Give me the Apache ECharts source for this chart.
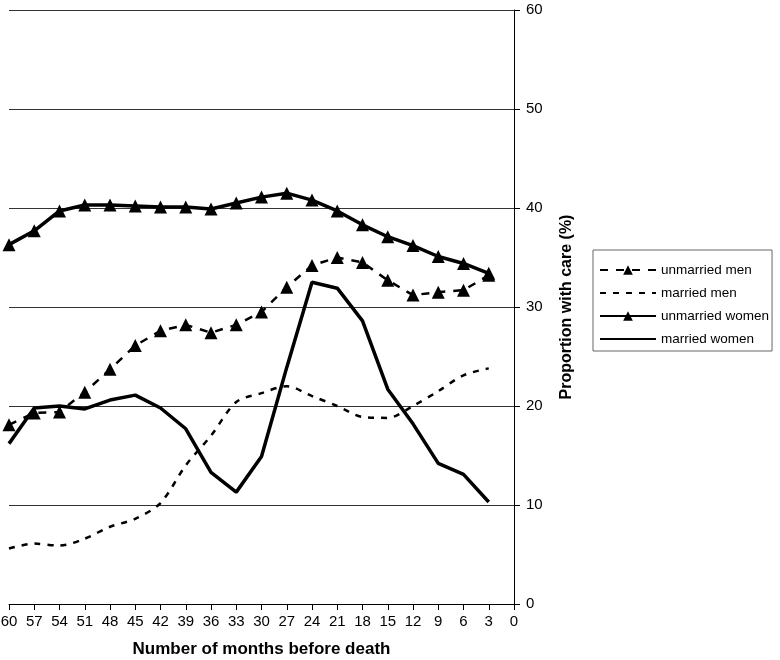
<!DOCTYPE html>
<html>
<head>
<meta charset="utf-8">
<script src="https://cdn.jsdelivr.net/npm/echarts@6/dist/echarts.min.js"></script>
<style>html,body{margin:0;padding:0;background:#fff;}#c{width:780px;height:660px;}</style>
</head>
<body>
<div id="c"></div>
<script>
var months = ['60','57','54','51','48','45','42','39','36','33','30','27','24','21','18','15','12','9','6','3','0'];
var unmarriedMen   = [18.1,19.3,19.4,21.4,23.7,26.1,27.6,28.2,27.4,28.2,29.5,32.0,34.2,35.0,34.5,32.7,31.2,31.5,31.7,33.2];
var marriedMen     = [5.6,6.1,5.9,6.6,7.8,8.6,10.2,14.0,17.0,20.4,21.3,22.0,21.0,20.0,18.9,18.8,20.0,21.5,23.1,23.8];
var unmarriedWomen = [36.3,37.7,39.7,40.3,40.3,40.2,40.1,40.1,39.9,40.5,41.1,41.5,40.8,39.7,38.3,37.1,36.2,35.1,34.4,33.4];
var marriedWomen   = [16.2,19.8,20.0,19.7,20.6,21.1,19.8,17.7,13.3,11.3,14.9,23.9,32.5,31.9,28.6,21.7,18.2,14.2,13.1,10.3];
var yTicks = {min:0, max:60, interval:10};

var font = 'Liberation Sans, Arial, Helvetica, sans-serif';
var chart = echarts.init(document.getElementById('c'), null, {renderer:'canvas'});
chart.setOption({
  animation:false,
  backgroundColor:'#fff',
  textStyle:{fontFamily:font, color:'#000'},
  grid:{left:9, right:266, top:10, bottom:56, containLabel:false, outerBoundsMode:'none'},
  legend:{
    orient:'vertical', left:593, top:250,
    backgroundColor:'#fff', borderColor:'#666', borderWidth:1,
    padding:[13,3,5,6], itemGap:9, itemWidth:56, itemHeight:12,
    textStyle:{fontFamily:font, fontSize:13.5, color:'#000'},
    data:[
      {name:'unmarried men'},
      {name:'married men', itemStyle:{opacity:0}},
      {name:'unmarried women'},
      {name:'married women', itemStyle:{opacity:0}}
    ]
  },
  xAxis:{
    type:'category', data:months, boundaryGap:false,
    axisLine:{show:true, lineStyle:{color:'#000', width:1}},
    axisTick:{show:true, length:6, lineStyle:{color:'#000'}},
    axisLabel:{fontSize:15, color:'#000', margin:10, interval:0, fontFamily:font},
    splitLine:{show:false},
    name:'Number of months before death', nameLocation:'middle', nameGap:37,
    nameTextStyle:{fontSize:17, fontWeight:'bold', color:'#000', fontFamily:font}
  },
  yAxis:{
    type:'value', position:'right', min:yTicks.min, max:yTicks.max, interval:yTicks.interval,
    axisLine:{show:true, lineStyle:{color:'#000', width:1}},
    axisTick:{show:true, length:6, lineStyle:{color:'#000'}},
    axisLabel:{fontSize:15, color:'#000', margin:12, fontFamily:font},
    splitLine:{show:true, lineStyle:{color:'#333', width:1}},
    name:'Proportion with care (%)', nameLocation:'middle', nameGap:45, nameRotate:90,
    nameTextStyle:{fontSize:16, fontWeight:'bold', color:'#000', fontFamily:font}
  },
  series:[
    {name:'unmarried men', type:'line', data:unmarriedMen, symbol:'triangle', symbolSize:13,
     itemStyle:{color:'#000'}, lineStyle:{color:'#000', width:2.5, type:[8,8]}},
    {name:'married men', type:'line', data:marriedMen, symbol:'none', smooth:0.3,
     itemStyle:{color:'#000'}, lineStyle:{color:'#000', width:2.5, type:[6,7]}},
    {name:'unmarried women', type:'line', data:unmarriedWomen, symbol:'triangle', symbolSize:13,
     itemStyle:{color:'#000'}, lineStyle:{color:'#000', width:3.5}},
    {name:'married women', type:'line', data:marriedWomen, symbol:'none',
     itemStyle:{color:'#000'}, lineStyle:{color:'#000', width:3.5}}
  ]
});
</script>
</body>
</html>
